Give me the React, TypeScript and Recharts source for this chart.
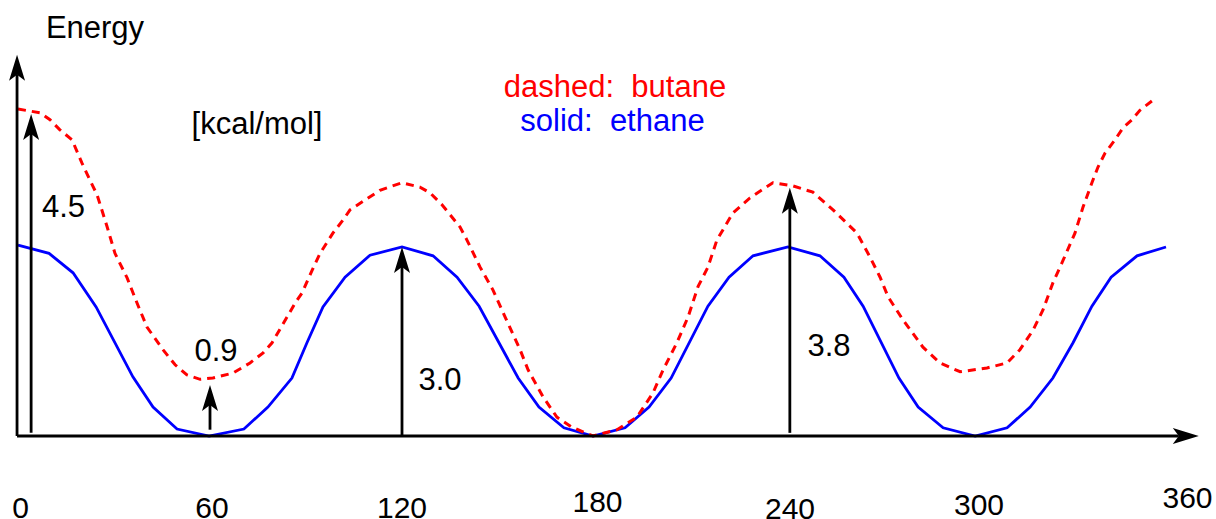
import React from "react";
import { LineChart, Line, XAxis, YAxis, ReferenceLine } from "recharts";

// ---------- data ----------
const ethaneAngles = [
  0, 9.7, 17.2, 24.4, 35.9, 42.2, 49.7, 59.7, 70.6, 78.1, 85.6, 90.3, 95.3, 102.2, 110, 120,
  129.7, 137.2, 144.1, 156.3, 162.8, 170.6, 179.7, 189.7, 197.2, 204.1, 215.6, 222.2, 229.7, 240.6,
  250.6, 258.1, 264.1, 275.3, 281.3, 289.1, 299.1, 309.1, 316.3, 323.4, 329.7, 335.6, 341.6, 349.7, 358.75,
];
const ethaneEnergy = [
  3.03, 2.9, 2.59, 2.05, 0.94, 0.46, 0.11, 0, 0.11, 0.46, 0.92, 1.48, 2.05, 2.52, 2.87, 3.0,
  2.86, 2.52, 2.06, 0.92, 0.46, 0.13, 0, 0.13, 0.46, 0.92, 2.06, 2.52, 2.86, 3.0,
  2.86, 2.52, 2.06, 0.92, 0.46, 0.13, 0, 0.13, 0.46, 0.92, 1.48, 2.06, 2.52, 2.86, 3.0,
];
const butaneAngles = [
  0, 6.9, 10, 13.1, 16.9, 20, 22.5, 24.7, 27.8, 30.3, 34.1, 37.2, 40.3, 45.3, 49.1, 52.8, 56.9, 60.9,
  67.2, 72.5, 76.6, 79.4, 84.1, 86.6, 88.75, 91.9, 94.4, 98.4, 101.6, 103.75, 113.1, 120,
  125.6, 128.75, 132.5, 138.1, 140.3, 144.4, 148.4, 152.2, 156.9, 159.4, 164.1, 168.4, 173.1, 179.7,
  187.2, 193.4, 198.4, 201.6, 205.9, 209.4, 212.5, 215.6, 218.4, 223.4, 228.75, 235.9,
  242.2, 248.4, 254.7, 262.2, 266.25, 269.4, 271.9, 276.6, 282.8, 288.1, 294.4, 302.8,
  309.1, 313.1, 317.2, 320.3, 323.4, 326.6, 330.3, 332.8, 335.6, 337.5, 339.7, 342.8, 345.3, 348.1, 350.6, 354.4, 356,
];
const butaneEnergy = [
  5.19, 5.13, 5.02, 4.86, 4.7, 4.33, 4.06, 3.83, 3.33, 2.9, 2.51, 2.11, 1.73, 1.37, 1.13, 0.97, 0.9, 0.92,
  1.0, 1.16, 1.32, 1.48, 1.89, 2.11, 2.27, 2.63, 2.9, 3.22, 3.43, 3.59, 3.9, 4.02,
  3.95, 3.86, 3.67, 3.32, 3.11, 2.68, 2.32, 1.89, 1.37, 1.05, 0.62, 0.3, 0.14, 0,
  0.1, 0.3, 0.68, 1.05, 1.48, 1.89, 2.37, 2.68, 3.11, 3.54, 3.78, 4.02,
  3.97, 3.87, 3.59, 3.22, 2.84, 2.52, 2.21, 1.84, 1.41, 1.16, 1.02, 1.08,
  1.16, 1.37, 1.68, 2.0, 2.43, 2.79, 3.22, 3.63, 4.02, 4.27, 4.49, 4.7, 4.89, 5.02, 5.17, 5.32, 5.32,
];
const tickValues = [0, 60, 120, 180, 240, 300, 360];

// annotation arrows: angle, from energy, to energy, label
const arrowAngles = [4.1, 60, 120, 241.2];
const arrowFrom = [0.05, 0.1, 0, 0.05];
const arrowTo = [5.11, 0.81, 3.0, 3.94];
const arrowLabels = ["4.5", "0.9", "3.0", "3.8"];

const ethaneData = ethaneAngles.map((deg, i) => ({ deg, e: ethaneEnergy[i] }));
const butaneData = butaneAngles.map((deg, i) => ({ deg, e: butaneEnergy[i] }));

// ---------- layout ----------
const W = 1216;
const H = 519;
const FONT = "'Liberation Sans', Arial, Helvetica, sans-serif";
const TICK_NUDGE: Record<number, [number, number]> = {
  0: [2.5, 82],
  60: [2, 82],
  120: [0, 82],
  180: [3.5, 76],
  240: [4, 83],
  300: [1, 79],
  360: [17.5, 72],
};
const LABEL_POS: [number, number][] = [
  [63.5, 217],
  [216, 361],
  [440, 390],
  [829, 356],
];

const Arrow = (props: any) => {
  const { x1, y1, x2, y2 } = props;
  if (x1 == null || y1 == null) return <g />;
  const dx = x2 - x1;
  const dy = y2 - y1;
  const len = Math.hypot(dx, dy) || 1;
  const ux = dx / len;
  const uy = dy / len;
  const px = -uy;
  const py = ux;
  const L = 26;
  const HW = 8;
  const N = 6;
  const bx = x2 - ux * L;
  const by = y2 - uy * L;
  const nx = x2 - ux * (L - N);
  const ny = y2 - uy * (L - N);
  const head = `M${x2},${y2} L${bx + px * HW},${by + py * HW} L${nx},${ny} L${bx - px * HW},${by - py * HW} Z`;
  return (
    <g>
      <line x1={x1} y1={y1} x2={nx} y2={ny} stroke="#000" strokeWidth={2.8} />
      <path d={head} fill="#000" />
    </g>
  );
};

const Tick = (props: any) => {
  const { x, y, payload } = props;
  const v = payload?.value;
  const [ddx, ddy] = TICK_NUDGE[v] || [0, 80];
  return (
    <text x={x + ddx} y={y + ddy} textAnchor="middle" fontFamily={FONT} fontSize={30} fill="#000">
      {String(v)}
    </text>
  );
};

export default function App() {
  return (
    <div style={{ position: "absolute", left: 0, top: 0, width: W, height: H, background: "#fff" }}>
      <LineChart width={W} height={H} margin={{ top: 58, right: 46, bottom: 0, left: 18 }}>
        <XAxis
          type="number"
          dataKey="deg"
          domain={[0, 360]}
          ticks={tickValues}
          axisLine={false}
          tickLine={false}
          tickSize={0}
          tickMargin={0}
          height={83}
          interval={0}
          tick={<Tick />}
        />
        <YAxis type="number" domain={[0, 6]} hide />
        <Line
          data={ethaneData}
          dataKey="e"
          type="linear"
          stroke="#0000ff"
          strokeWidth={2.8}
          dot={false}
          activeDot={false}
          isAnimationActive={false}
        />
        <Line
          data={butaneData}
          dataKey="e"
          type="linear"
          stroke="#ff0000"
          strokeWidth={3}
          strokeDasharray="8 6"
          dot={false}
          activeDot={false}
          isAnimationActive={false}
        />
        <ReferenceLine
          segment={[{ x: -0.3, y: 0 }, { x: -0.3, y: 6.05 }]}
          ifOverflow="visible"
          shape={(p: any) => <Arrow {...p} />}
        />
        <ReferenceLine
          segment={[{ x: -0.3, y: 0 }, { x: 369, y: 0 }]}
          ifOverflow="visible"
          shape={(p: any) => <Arrow {...p} />}
        />
        {arrowAngles.map((a, i) => (
          <ReferenceLine
            key={i}
            segment={[{ x: a, y: arrowFrom[i] }, { x: a, y: arrowTo[i] }]}
            ifOverflow="visible"
            shape={(p: any) => <Arrow {...p} />}
          />
        ))}
      </LineChart>
      <svg
        width={W}
        height={H}
        style={{ position: "absolute", left: 0, top: 0, pointerEvents: "none" }}
        fontFamily={FONT}
      >
        <text x={95} y={38} textAnchor="middle" fontSize={31} fill="#000">Energy</text>
        <text x={257} y={134} textAnchor="middle" fontSize={31} fill="#000">[kcal/mol]</text>
        <text x={615} y={97} textAnchor="middle" fontSize={31} fill="#ff0000" xmlSpace="preserve" style={{ whiteSpace: "pre" }}>
          {"dashed:  butane"}
        </text>
        <text x={612.5} y={131} textAnchor="middle" fontSize={31} fill="#0000ff" xmlSpace="preserve" style={{ whiteSpace: "pre" }}>
          {"solid:  ethane"}
        </text>
        {arrowLabels.map((t, i) => (
          <text key={t} x={LABEL_POS[i][0]} y={LABEL_POS[i][1]} textAnchor="middle" fontSize={31} fill="#000">
            {t}
          </text>
        ))}
      </svg>
    </div>
  );
}
